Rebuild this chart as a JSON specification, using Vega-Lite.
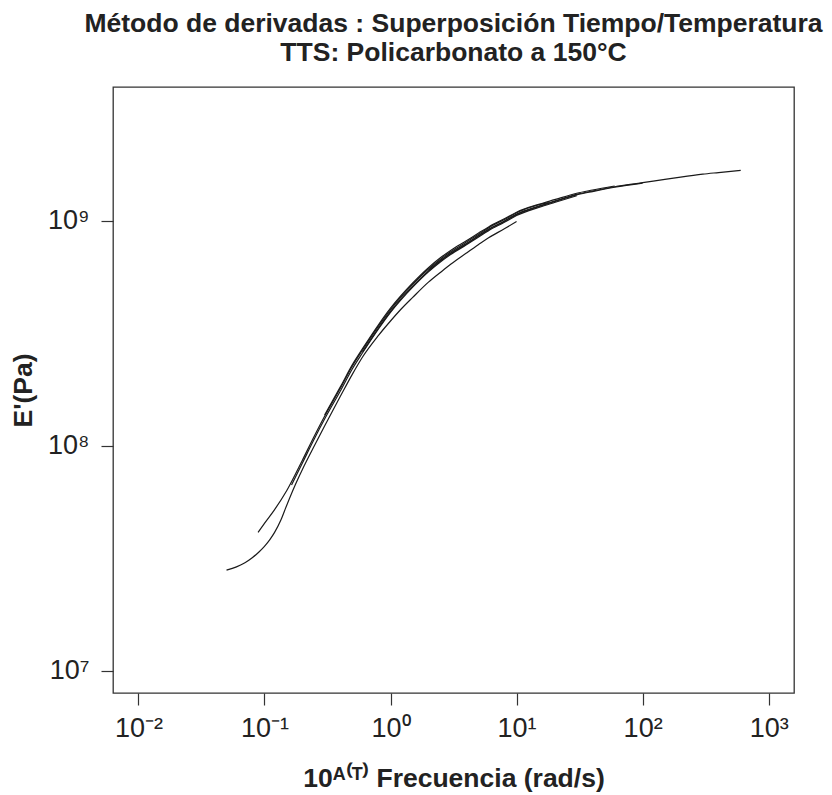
{
  "$schema": "https://vega.github.io/schema/vega-lite/v6.json",
  "autosize": {"type": "none"},
  "padding": {"left": 113, "top": 87, "right": 38, "bottom": 102},
  "width": 681,
  "height": 606,
  "background": "white",
  "title": {
    "text": ["Método de derivadas : Superposición Tiempo/Temperatura", "TTS: Policarbonato a 150°C"],
    "font": "Liberation Sans",
    "fontSize": 26.5,
    "fontWeight": "bold",
    "lineHeight": 29.3,
    "color": "#222222",
    "offset": 20,
    "anchor": "middle"
  },
  "config": {
    "view": {"stroke": "#333333", "strokeWidth": 1.3},
    "axis": {
      "domain": false,
      "grid": false,
      "ticks": true,
      "tickSize": 12,
      "tickColor": "#333333",
      "tickWidth": 1.2,
      "labelFont": "Liberation Sans",
      "labelFontSize": 27,
      "labelColor": "#222222",
      "titleFont": "Liberation Sans",
      "titleFontSize": 26.5,
      "titleFontWeight": "bold",
      "titleColor": "#222222"
    }
  },
  "data": {
    "values": [
      {"c": "A", "f": 0.05, "E": 2.80e7},
      {"c": "A", "f": 0.06, "E": 2.897e7},
      {"c": "A", "f": 0.07, "E": 3.020e7},
      {"c": "A", "f": 0.08, "E": 3.177e7},
      {"c": "A", "f": 0.09, "E": 3.365e7},
      {"c": "A", "f": 0.1, "E": 3.573e7},
      {"c": "A", "f": 0.11, "E": 3.819e7},
      {"c": "A", "f": 0.12, "E": 4.111e7},
      {"c": "A", "f": 0.135, "E": 4.677e7},
      {"c": "A", "f": 0.15, "E": 5.433e7},
      {"c": "A", "f": 0.175, "E": 6.683e7},
      {"c": "A", "f": 0.2, "E": 7.852e7},
      {"c": "A", "f": 0.25, "E": 1.005e8},
      {"c": "A", "f": 0.3, "E": 1.225e8},
      {"c": "A", "f": 0.4, "E": 1.660e8},
      {"c": "A", "f": 0.5, "E": 2.089e8},
      {"c": "A", "f": 0.6, "E": 2.483e8},
      {"c": "A", "f": 0.8, "E": 3.090e8},
      {"c": "A", "f": 1, "E": 3.589e8},
      {"c": "A", "f": 1.2, "E": 4.027e8},
      {"c": "A", "f": 1.5, "E": 4.571e8},
      {"c": "A", "f": 2, "E": 5.346e8},
      {"c": "A", "f": 2.5, "E": 5.916e8},
      {"c": "A", "f": 3, "E": 6.412e8},
      {"c": "A", "f": 4, "E": 7.194e8},
      {"c": "A", "f": 5, "E": 7.852e8},
      {"c": "A", "f": 6, "E": 8.414e8},
      {"c": "A", "f": 8, "E": 9.226e8},
      {"c": "A", "f": 10, "E": 9.931e8},

      {"c": "B", "f": 0.089, "E": 4.12e7},
      {"c": "B", "f": 0.1, "E": 4.52e7},
      {"c": "B", "f": 0.12, "E": 5.19e7},
      {"c": "B", "f": 0.15, "E": 6.31e7},
      {"c": "B", "f": 0.2, "E": 8.63e7},
      {"c": "B", "f": 0.25, "E": 1.111e8},
      {"c": "B", "f": 0.3, "E": 1.353e8},
      {"c": "B", "f": 0.4, "E": 1.803e8},
      {"c": "B", "f": 0.5, "E": 2.270e8},
      {"c": "B", "f": 0.6, "E": 2.667e8},
      {"c": "B", "f": 0.8, "E": 3.397e8},
      {"c": "B", "f": 1, "E": 4.037e8},
      {"c": "B", "f": 1.2, "E": 4.561e8},
      {"c": "B", "f": 1.5, "E": 5.224e8},
      {"c": "B", "f": 2, "E": 6.110e8},
      {"c": "B", "f": 2.5, "E": 6.777e8},
      {"c": "B", "f": 3, "E": 7.295e8},
      {"c": "B", "f": 4, "E": 8.054e8},
      {"c": "B", "f": 5, "E": 8.731e8},
      {"c": "B", "f": 6, "E": 9.312e8},
      {"c": "B", "f": 8, "E": 1.014e9},
      {"c": "B", "f": 10, "E": 1.087e9},
      {"c": "B", "f": 15, "E": 1.180e9},
      {"c": "B", "f": 18, "E": 1.205e9},

      {"c": "C", "f": 0.164, "E": 6.70e7},
      {"c": "C", "f": 0.2, "E": 8.39e7},
      {"c": "C", "f": 0.25, "E": 1.081e8},
      {"c": "C", "f": 0.3, "E": 1.315e8},
      {"c": "C", "f": 0.4, "E": 1.753e8},
      {"c": "C", "f": 0.5, "E": 2.208e8},
      {"c": "C", "f": 0.6, "E": 2.593e8},
      {"c": "C", "f": 0.8, "E": 3.303e8},
      {"c": "C", "f": 1, "E": 3.925e8},
      {"c": "C", "f": 1.2, "E": 4.435e8},
      {"c": "C", "f": 1.5, "E": 5.080e8},
      {"c": "C", "f": 2, "E": 5.942e8},
      {"c": "C", "f": 2.5, "E": 6.589e8},
      {"c": "C", "f": 3, "E": 7.093e8},
      {"c": "C", "f": 4, "E": 7.832e8},
      {"c": "C", "f": 5, "E": 8.489e8},
      {"c": "C", "f": 6, "E": 9.054e8},
      {"c": "C", "f": 8, "E": 9.86e8},
      {"c": "C", "f": 10, "E": 1.057e9},
      {"c": "C", "f": 15, "E": 1.148e9},
      {"c": "C", "f": 20, "E": 1.208e9},
      {"c": "C", "f": 30, "E": 1.294e9},

      {"c": "D", "f": 0.3, "E": 1.371e8},
      {"c": "D", "f": 0.4, "E": 1.828e8},
      {"c": "D", "f": 0.5, "E": 2.302e8},
      {"c": "D", "f": 0.6, "E": 2.704e8},
      {"c": "D", "f": 0.8, "E": 3.444e8},
      {"c": "D", "f": 1, "E": 4.092e8},
      {"c": "D", "f": 1.2, "E": 4.624e8},
      {"c": "D", "f": 1.5, "E": 5.296e8},
      {"c": "D", "f": 2, "E": 6.195e8},
      {"c": "D", "f": 2.5, "E": 6.870e8},
      {"c": "D", "f": 3, "E": 7.395e8},
      {"c": "D", "f": 4, "E": 8.165e8},
      {"c": "D", "f": 5, "E": 8.834e8},
      {"c": "D", "f": 6, "E": 9.403e8},
      {"c": "D", "f": 8, "E": 1.022e9},
      {"c": "D", "f": 10, "E": 1.093e9},
      {"c": "D", "f": 15, "E": 1.185e9},
      {"c": "D", "f": 20, "E": 1.243e9},
      {"c": "D", "f": 30, "E": 1.328e9},
      {"c": "D", "f": 40, "E": 1.372e9},
      {"c": "D", "f": 60, "E": 1.430e9},

      {"c": "E", "f": 0.6, "E": 2.617e8},
      {"c": "E", "f": 0.8, "E": 3.333e8},
      {"c": "E", "f": 1, "E": 3.961e8},
      {"c": "E", "f": 1.2, "E": 4.476e8},
      {"c": "E", "f": 1.5, "E": 5.126e8},
      {"c": "E", "f": 2, "E": 5.996e8},
      {"c": "E", "f": 2.5, "E": 6.650e8},
      {"c": "E", "f": 3, "E": 7.158e8},
      {"c": "E", "f": 4, "E": 7.903e8},
      {"c": "E", "f": 5, "E": 8.567e8},
      {"c": "E", "f": 6, "E": 9.137e8},
      {"c": "E", "f": 8, "E": 9.95e8},
      {"c": "E", "f": 10, "E": 1.067e9},
      {"c": "E", "f": 15, "E": 1.158e9},
      {"c": "E", "f": 20, "E": 1.219e9},
      {"c": "E", "f": 30, "E": 1.305e9},
      {"c": "E", "f": 40, "E": 1.351e9},
      {"c": "E", "f": 60, "E": 1.412e9},
      {"c": "E", "f": 100, "E": 1.472e9},

      {"c": "F", "f": 2, "E": 6.026e8},
      {"c": "F", "f": 2.5, "E": 6.683e8},
      {"c": "F", "f": 3, "E": 7.194e8},
      {"c": "F", "f": 4, "E": 7.943e8},
      {"c": "F", "f": 5, "E": 8.610e8},
      {"c": "F", "f": 6, "E": 9.183e8},
      {"c": "F", "f": 8, "E": 1.0e9},
      {"c": "F", "f": 10, "E": 1.072e9},
      {"c": "F", "f": 15, "E": 1.164e9},
      {"c": "F", "f": 20, "E": 1.225e9},
      {"c": "F", "f": 30, "E": 1.312e9},
      {"c": "F", "f": 40, "E": 1.358e9},
      {"c": "F", "f": 60, "E": 1.419e9},
      {"c": "F", "f": 100, "E": 1.479e9},
      {"c": "F", "f": 150, "E": 1.531e9},
      {"c": "F", "f": 200, "E": 1.567e9},
      {"c": "F", "f": 300, "E": 1.614e9},
      {"c": "F", "f": 400, "E": 1.641e9},
      {"c": "F", "f": 600, "E": 1.679e9}
    ]
  },
  "mark": {"type": "line", "color": "#1a1a1a", "strokeWidth": 1.2, "interpolate": "monotone"},
  "encoding": {
    "x": {
      "field": "f",
      "type": "quantitative",
      "scale": {"type": "log", "domain": [0.006288, 1588], "nice": false},
      "axis": {
        "values": [0.01, 0.1, 1, 10, 100, 1000],
        "labelExpr": "round(log(datum.value)/LN10) == -2 ? '10⁻²' : round(log(datum.value)/LN10) == -1 ? '10⁻¹' : round(log(datum.value)/LN10) == 0 ? '10⁰' : round(log(datum.value)/LN10) == 1 ? '10¹' : round(log(datum.value)/LN10) == 2 ? '10²' : '10³'",
        "labelPadding": 10,
        "labelFlush": false,
        "title": "10ᴬ⁽ᵀ⁾ Frecuencia (rad/s)",
        "titlePadding": 24
      }
    },
    "y": {
      "field": "E",
      "type": "quantitative",
      "scale": {"type": "log", "domain": [7.96e6, 3.94e9], "nice": false},
      "axis": {
        "values": [1e7, 1e8, 1e9],
        "labelExpr": "round(log(datum.value)/LN10) == 7 ? '10⁷' : round(log(datum.value)/LN10) == 8 ? '10⁸' : '10⁹'",
        "labelPadding": 12,
        "labelFlush": false,
        "title": "E'(Pa)",
        "titlePadding": 10
      }
    },
    "detail": {"field": "c", "type": "nominal"}
  }
}
